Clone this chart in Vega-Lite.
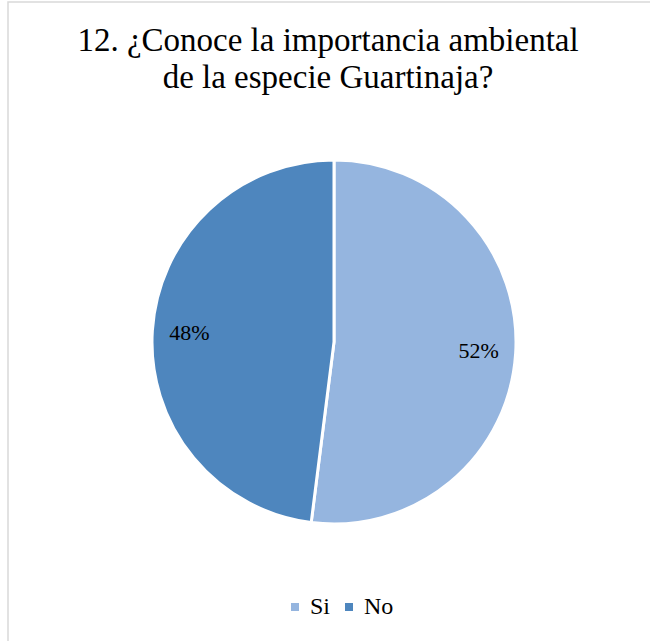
{
  "$schema": "https://vega.github.io/schema/vega-lite/v6.json",
  "autosize": "none",
  "padding": {"left": 8, "top": 2, "right": 0, "bottom": 0},
  "width": 652,
  "height": 680,
  "background": "white",
  "view": {"stroke": "#D9D9D9", "strokeWidth": 1.5, "fill": "white"},
  "title": {
    "text": ["12. ¿Conoce la importancia ambiental", "de la especie Guartinaja?"],
    "font": "Liberation Serif",
    "fontSize": 33,
    "fontWeight": "normal",
    "color": "#000000",
    "anchor": "middle",
    "offset": -93,
    "dx": -6,
    "lineHeight": 37
  },
  "data": {
    "values": [
      {"respuesta": "Si", "porcentaje": 52, "orden": 1, "etiqueta": "52%"},
      {"respuesta": "No", "porcentaje": 48, "orden": 2, "etiqueta": "48%"}
    ]
  },
  "encoding": {
    "theta": {"field": "porcentaje", "type": "quantitative", "stack": true},
    "order": {"field": "orden", "type": "quantitative"},
    "color": {
      "field": "respuesta",
      "type": "nominal",
      "scale": {"domain": ["Si", "No"], "range": ["#95B5DF", "#4E86BE"]},
      "legend": {
        "title": null,
        "orient": "none",
        "direction": "horizontal",
        "legendX": 275,
        "legendY": 593,
        "symbolType": "square",
        "symbolSize": 64,
        "symbolStrokeWidth": 0,
        "labelFont": "Liberation Serif",
        "labelFontSize": 24,
        "labelColor": "#000000",
        "labelOffset": 3,
        "columnPadding": 6
      }
    }
  },
  "layer": [
    {
      "mark": {"type": "arc", "radius": 182, "stroke": "white", "strokeWidth": 3}
    },
    {
      "mark": {"type": "text", "radius": 145, "font": "Liberation Serif", "fontSize": 22},
      "encoding": {
        "text": {"field": "etiqueta"},
        "color": {"value": "#000000"}
      }
    }
  ],
  "config": {
    "view": {"stroke": "#D9D9D9", "strokeWidth": 1.5}
  }
}
